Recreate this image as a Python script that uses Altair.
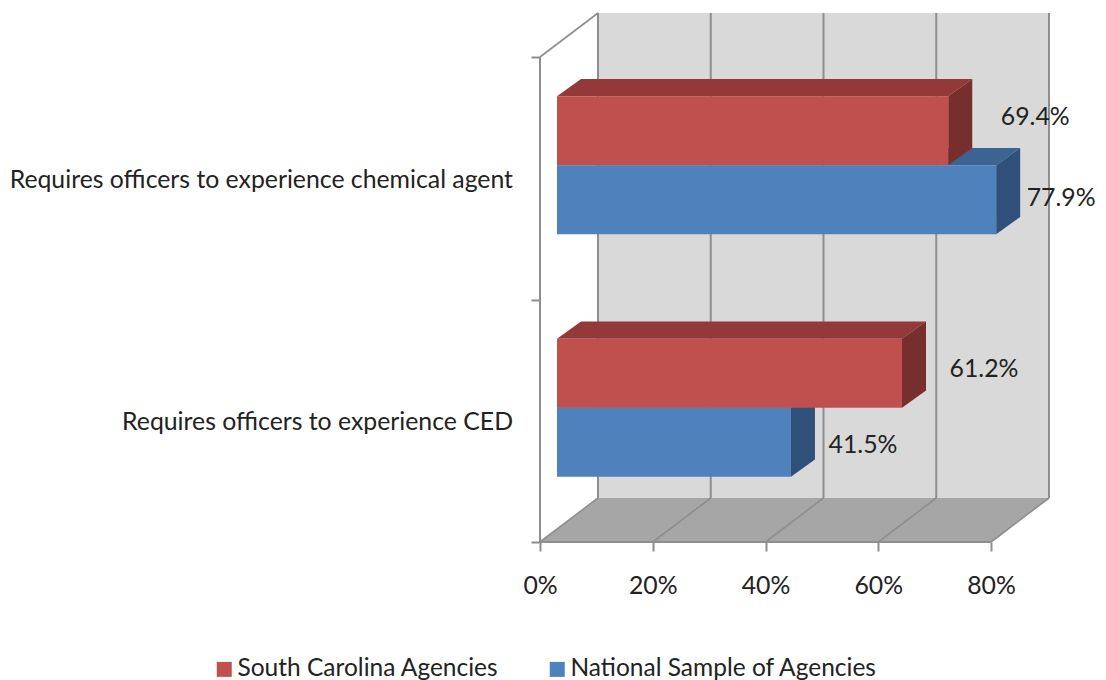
import altair as alt
import pandas as pd

categories = ["Requires officers to experience chemical agent", "Requires officers to experience CED"]
series = ["South Carolina Agencies", "National Sample of Agencies"]
south_carolina = [69.4, 61.2]
national = [77.9, 41.5]
x_ticks = [0, 20, 40, 60, 80]

front_colors = ["#C0504D", "#4F81BD"]
top_colors = {"South Carolina Agencies": "#93393A", "National Sample of Agencies": "#3B6493"}
side_colors = {"South Carolina Agencies": "#772F2D", "National Sample of Agencies": "#2F5079"}
LINE = "#8E8E8E"
TEXT = "#222222"
FONT = "Lato"
FS = 24.8

# pixel-per-unit of the two scales
PX_X = 5.6375
PX_Y = 242.5
W, H = 510, 529
XMAX, YMAX = W / PX_X, H / PX_Y
# wall depth, in data units
DX, DY = 58 / PX_X, 44 / PX_Y
# bar placement inside the depth
B0X, B0Y = 17 / PX_X, 13 / PX_Y
BDX, BDY = 24 / PX_X, 17.3 / PX_Y
BAR_H = 69 / PX_Y

xs = alt.Scale(domain=[0, XMAX], nice=False, zero=False)
ys = alt.Scale(domain=[0, YMAX], nice=False, zero=False)
X = lambda f="x": alt.X(f"{f}:Q", scale=xs, axis=None)
Y = lambda f="y": alt.Y(f"{f}:Q", scale=ys, axis=None)

# Bars
centers = {categories[0]: 1.5, categories[1]: 0.5}
front_rows, top_rows, side_rows, label_rows = [], [], [], []
label_dx = {(series[0], categories[0]): 87, (series[1], categories[0]): 65,
            (series[0], categories[1]): 82, (series[1], categories[1]): 72}
label_dy = {(series[0], categories[0]): 12.5, (series[1], categories[0]): 1,
            (series[0], categories[1]): 3.5, (series[1], categories[1]): -3.5}
for s, vals in zip(series, [south_carolina, national]):
    for c, v in zip(categories, vals):
        mid = centers[c] + B0Y
        lo, hi = (mid, mid + BAR_H) if s == series[0] else (mid - BAR_H, mid)
        x0, x1 = B0X, B0X + v
        front_rows.append(dict(series=s, x=x0, x2=x1, y=lo, y2=hi))
        key = c
        top_rows += [dict(series=s, cat=key, y=hi, x=x0, x2=x1),
                     dict(series=s, cat=key, y=hi + BDY, x=x0 + BDX, x2=x1 + BDX)]
        side_rows += [dict(series=s, cat=key, x=x1, y=lo, y2=hi),
                      dict(series=s, cat=key, x=x1 + BDX, y=lo + BDY, y2=hi + BDY)]
        label_rows.append(dict(series=s, x=x1 + label_dx[(s, c)] / PX_X,
                               y=(lo + hi) / 2 + label_dy[(s, c)] / PX_Y,
                               text=f"{v:.1f}%"))
front = pd.DataFrame(front_rows)
top = pd.DataFrame(top_rows)
side = pd.DataFrame(side_rows)
labels = pd.DataFrame(label_rows)

# Axes (ticks and tick labels)
axes = alt.Chart(pd.DataFrame([dict(x=0, y=0)])).mark_point(opacity=0).encode(
    x=alt.X("x:Q", scale=xs, axis=alt.Axis(
        values=x_ticks, labelExpr="datum.value + '%'", grid=False, domain=False, tickColor=LINE,
        tickWidth=2, tickSize=9, labelFont=FONT, labelFontSize=FS, labelColor=TEXT,
        labelPadding=22, title=None, labelFlush=False)),
    y=alt.Y("y:Q", scale=ys, axis=alt.Axis(
        values=[0, 1, 2], labels=False, grid=False, domain=False, tickColor=LINE,
        tickWidth=2, tickSize=9, title=None)),
)

# Walls and floor
wall = alt.Chart(pd.DataFrame([dict(x=DX, x2=XMAX, y=DY, y2=YMAX)])).mark_rect(color="#D9D9D9").encode(
    x=X(), x2="x2:Q", y=Y(), y2="y2:Q")
floor = alt.Chart(pd.DataFrame([dict(y=0, x=0, x2=80), dict(y=DY, x=DX, x2=80 + DX)])).mark_area(
    color="#A6A6A6", orient="horizontal").encode(y=Y(), x=X(), x2="x2:Q")

# Grid lines
grid_rows = []
for t in x_ticks:
    grid_rows += [dict(id=f"b{t}", x=t + DX, y=DY), dict(id=f"b{t}", x=t + DX, y=YMAX)]
back_grid = alt.Chart(pd.DataFrame(grid_rows)).mark_line(color=LINE, strokeWidth=2).encode(
    x=X(), y=Y(), detail="id:N")
diag_rows = []
for t in x_ticks:
    diag_rows += [dict(id=f"d{t}", x=t, y=0), dict(id=f"d{t}", x=t + DX, y=DY)]
diag_rows += [dict(id="top", x=0, y=2), dict(id="top", x=DX, y=YMAX)]
diag = alt.Chart(pd.DataFrame(diag_rows)).mark_line(color=LINE, strokeWidth=1.6).encode(
    x=X(), y=Y(), detail="id:N")
base_rows = [dict(id="bx", x=0, y=0), dict(id="bx", x=80, y=0),
             dict(id="by", x=0, y=0), dict(id="by", x=0, y=2)]
base_lines = alt.Chart(pd.DataFrame(base_rows)).mark_line(color=LINE, strokeWidth=2).encode(
    x=X(), y=Y(), detail="id:N", order="y:Q")

layers = [axes, wall, floor, back_grid, diag, base_lines]

# Bar faces, back series first
for s in reversed(series):
    layers.append(alt.Chart(top[top.series == s]).mark_area(color=top_colors[s], orient="horizontal").encode(
        y=Y(), x=X(), x2="x2:Q", detail="cat:N"))
    layers.append(alt.Chart(side[side.series == s]).mark_area(color=side_colors[s], orient="vertical").encode(
        x=X(), y=Y(), y2="y2:Q", detail="cat:N"))

fronts = alt.Chart(front).mark_rect().encode(
    x=X(), x2="x2:Q", y=Y(), y2="y2:Q",
    color=alt.Color("series:N", sort=series, scale=alt.Scale(domain=series, range=front_colors),
                    legend=alt.Legend(
                        orient="none", legendX=-328, legendY=644, direction="horizontal", title=None,
                        symbolType="square", symbolSize=225, symbolStrokeWidth=0, labelFont=FONT,
                        labelFontSize=24.5, labelColor=TEXT, columnPadding=46, labelOffset=1,
                        labelLimit=400)),
)
layers.append(fronts)

value_text = alt.Chart(labels).mark_text(font=FONT, fontSize=FS, color=TEXT, align="center", baseline="middle").encode(
    x=X(), y=Y(), text="text:N")
layers.append(value_text)

cat_text = alt.Chart(pd.DataFrame(dict(cat=categories, x=[0, 0], y=[1.5, 0.5]))).mark_text(
    font=FONT, fontSize=FS, color=TEXT, align="right", baseline="middle", dx=-27, dy=2.5).encode(
    x=X(), y=Y(), text="cat:N")
layers.append(cat_text)

chart = alt.layer(*layers).resolve_axis(x="independent", y="independent").properties(
    width=W, height=H,
    autosize=alt.AutoSizeParams(type="none"),
    padding={"left": 532, "top": 5, "right": 48, "bottom": 138},
).configure_view(stroke=None)

chart.save("out.html", embed_options={"renderer": "svg", "actions": False})
